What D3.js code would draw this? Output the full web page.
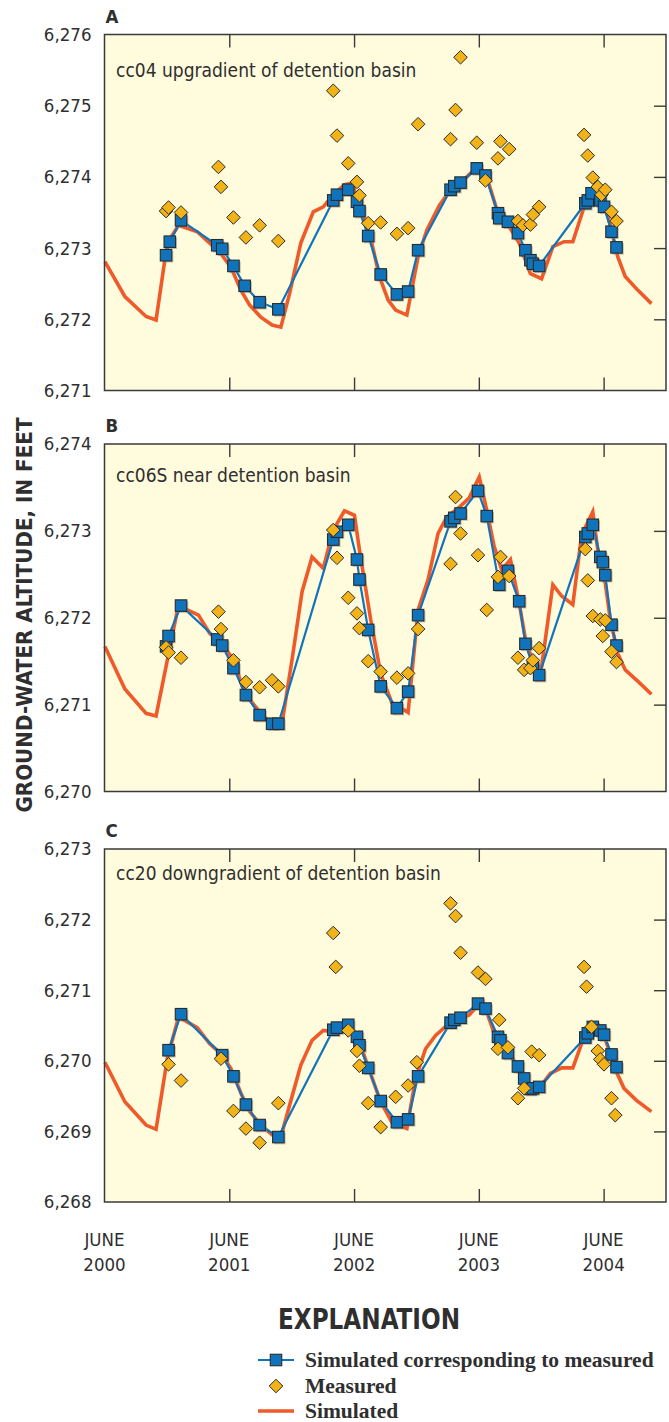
<!DOCTYPE html>
<html>
<head>
<meta charset="utf-8">
<script src="https://cdn.jsdelivr.net/npm/d3@7"></script>
<style>
  body { margin: 0; background: #ffffff; }
  svg { display: block; }
  .cond { font-family: "DejaVu Sans Condensed", "DejaVu Sans", sans-serif; font-stretch: condensed; }
  .serif { font-family: "Liberation Serif", "Times New Roman", serif; font-weight: bold; }
</style>
</head>
<body>
<svg id="chart" width="669" height="1422"></svg>
<script>
// ---- Axis ticks -------------------------------------------------------
const juneTicks = [2000.4167, 2001.4167, 2002.4167, 2003.4167, 2004.4167];
const juneYearLabels = ["2000", "2001", "2002", "2003", "2004"];
const tickValuesA = [6271, 6272, 6273, 6274, 6275, 6276];
const tickValuesB = [6270, 6271, 6272, 6273, 6274];
const tickValuesC = [6268, 6269, 6270, 6271, 6272, 6273];

// ---- Well cc04 (panel A) ---------------------------------------------
const simulatedA = [
  [2000.42, 6272.81], [2000.58, 6272.32], [2000.75, 6272.04], [2000.83, 6271.99],
  [2000.92, 6273.07], [2001.01, 6273.32], [2001.16, 6273.23], [2001.26, 6273.07],
  [2001.35, 6272.92], [2001.43, 6272.73], [2001.51, 6272.41], [2001.58, 6272.20],
  [2001.67, 6272.03], [2001.76, 6271.92], [2001.83, 6271.89], [2001.90, 6272.36],
  [2001.99, 6273.07], [2002.09, 6273.51], [2002.17, 6273.58], [2002.25, 6273.75],
  [2002.34, 6273.89], [2002.40, 6273.91], [2002.44, 6273.72], [2002.49, 6273.44],
  [2002.55, 6273.14], [2002.62, 6272.60], [2002.69, 6272.27], [2002.75, 6272.13],
  [2002.84, 6272.06], [2002.93, 6272.88], [2003.00, 6273.25], [2003.10, 6273.60],
  [2003.19, 6273.82], [2003.28, 6273.93], [2003.36, 6274.07], [2003.41, 6274.17],
  [2003.48, 6274.00], [2003.57, 6273.49], [2003.66, 6273.30], [2003.74, 6273.07],
  [2003.83, 6272.64], [2003.92, 6272.57], [2004.01, 6273.02], [2004.10, 6273.09],
  [2004.17, 6273.09], [2004.27, 6273.63], [2004.31, 6273.77], [2004.40, 6273.72],
  [2004.46, 6273.39], [2004.53, 6272.88], [2004.59, 6272.60], [2004.69, 6272.41],
  [2004.80, 6272.22]
];
const simAtMeasuredA = [
  [2000.91, 6272.90], [2000.94, 6273.09], [2001.03, 6273.39], [2001.32, 6273.04],
  [2001.36, 6272.99], [2001.45, 6272.75], [2001.54, 6272.47], [2001.66, 6272.24],
  [2001.81, 6272.14], [2002.25, 6273.67], [2002.28, 6273.75], [2002.37, 6273.82],
  [2002.44, 6273.65], [2002.46, 6273.52], [2002.53, 6273.17], [2002.63, 6272.63],
  [2002.76, 6272.35], [2002.85, 6272.39], [2002.93, 6272.97], [2003.19, 6273.82],
  [2003.22, 6273.87], [2003.27, 6273.92], [2003.40, 6274.12], [2003.47, 6274.02],
  [2003.57, 6273.49], [2003.58, 6273.42], [2003.65, 6273.37], [2003.73, 6273.21],
  [2003.79, 6272.97], [2003.83, 6272.83], [2003.85, 6272.78], [2003.90, 6272.75],
  [2004.27, 6273.63], [2004.29, 6273.67], [2004.32, 6273.77], [2004.39, 6273.67],
  [2004.42, 6273.58], [2004.48, 6273.23], [2004.52, 6273.01]
];
const measuredA = [
  [2000.91, 6273.52], [2000.93, 6273.57], [2001.03, 6273.50], [2001.33, 6274.14],
  [2001.35, 6273.86], [2001.45, 6273.43], [2001.55, 6273.15], [2001.66, 6273.32],
  [2001.81, 6273.10], [2002.25, 6275.21], [2002.28, 6274.58], [2002.37, 6274.19],
  [2002.44, 6273.93], [2002.46, 6273.74], [2002.53, 6273.35], [2002.63, 6273.36],
  [2002.76, 6273.20], [2002.85, 6273.28], [2002.93, 6274.74], [2003.19, 6274.53],
  [2003.23, 6274.94], [2003.27, 6275.68], [2003.40, 6274.48], [2003.47, 6273.95],
  [2003.57, 6274.26], [2003.59, 6274.50], [2003.66, 6274.39], [2003.73, 6273.38],
  [2003.77, 6273.32], [2003.83, 6273.33], [2003.85, 6273.47], [2003.90, 6273.58],
  [2004.26, 6274.59], [2004.29, 6274.30], [2004.33, 6273.99], [2004.37, 6273.86],
  [2004.40, 6273.75], [2004.43, 6273.82], [2004.48, 6273.51], [2004.52, 6273.38]
];

// ---- Well cc06S (panel B) --------------------------------------------
const simulatedB = [
  [2000.42, 6271.67], [2000.58, 6271.18], [2000.75, 6270.90], [2000.83, 6270.87],
  [2001.01, 6272.15], [2001.08, 6272.09], [2001.17, 6272.03], [2001.26, 6271.82],
  [2001.35, 6271.71], [2001.45, 6271.52], [2001.52, 6271.21], [2001.58, 6271.06],
  [2001.67, 6270.90], [2001.76, 6270.77], [2001.84, 6270.79], [2001.92, 6271.52],
  [2002.00, 6272.30], [2002.08, 6272.70], [2002.17, 6272.57], [2002.25, 6273.01],
  [2002.34, 6273.23], [2002.42, 6273.18], [2002.46, 6272.78], [2002.55, 6271.98],
  [2002.63, 6271.36], [2002.72, 6271.02], [2002.84, 6270.92], [2002.85, 6270.91],
  [2002.93, 6272.09], [2003.01, 6272.44], [2003.09, 6272.97], [2003.16, 6273.16],
  [2003.25, 6273.26], [2003.34, 6273.38], [2003.42, 6273.62], [2003.48, 6273.24],
  [2003.54, 6272.82], [2003.60, 6272.55], [2003.67, 6272.67], [2003.74, 6272.17],
  [2003.80, 6271.67], [2003.88, 6271.44], [2003.92, 6271.44], [2004.01, 6272.38],
  [2004.08, 6272.25], [2004.17, 6272.15], [2004.24, 6272.95], [2004.33, 6273.22],
  [2004.37, 6272.78], [2004.43, 6272.40], [2004.47, 6271.98], [2004.53, 6271.59],
  [2004.59, 6271.40], [2004.69, 6271.27], [2004.80, 6271.12]
];
const simAtMeasuredB = [
  [2000.91, 6271.67], [2000.93, 6271.79], [2001.03, 6272.14], [2001.32, 6271.75],
  [2001.36, 6271.68], [2001.45, 6271.42], [2001.55, 6271.11], [2001.66, 6270.88],
  [2001.76, 6270.78], [2001.81, 6270.78], [2002.25, 6272.90], [2002.28, 6272.99],
  [2002.37, 6273.07], [2002.44, 6272.67], [2002.46, 6272.44], [2002.53, 6271.86],
  [2002.63, 6271.21], [2002.76, 6270.96], [2002.85, 6271.15], [2002.93, 6272.03],
  [2003.19, 6273.11], [2003.22, 6273.15], [2003.27, 6273.20], [2003.41, 6273.46],
  [2003.48, 6273.17], [2003.58, 6272.38], [2003.65, 6272.54], [2003.74, 6272.19],
  [2003.79, 6271.70], [2003.85, 6271.44], [2003.90, 6271.34], [2004.27, 6272.93],
  [2004.29, 6272.97], [2004.33, 6273.07], [2004.39, 6272.70], [2004.41, 6272.64],
  [2004.43, 6272.49], [2004.48, 6271.92], [2004.52, 6271.68]
];
const measuredB = [
  [2000.91, 6271.66], [2000.93, 6271.60], [2001.03, 6271.54], [2001.33, 6272.07],
  [2001.35, 6271.87], [2001.45, 6271.51], [2001.55, 6271.26], [2001.66, 6271.20],
  [2001.76, 6271.28], [2001.81, 6271.21], [2002.25, 6273.01], [2002.28, 6272.69],
  [2002.37, 6272.23], [2002.44, 6272.05], [2002.46, 6271.88], [2002.53, 6271.50],
  [2002.63, 6271.38], [2002.76, 6271.31], [2002.85, 6271.36], [2002.93, 6271.87],
  [2003.19, 6272.62], [2003.23, 6273.39], [2003.27, 6272.97], [2003.41, 6272.72],
  [2003.48, 6272.09], [2003.57, 6272.47], [2003.59, 6272.70], [2003.66, 6272.48],
  [2003.73, 6271.54], [2003.78, 6271.40], [2003.83, 6271.42], [2003.85, 6271.51],
  [2003.90, 6271.65], [2004.27, 6272.79], [2004.29, 6272.43], [2004.33, 6272.02],
  [2004.39, 6271.98], [2004.43, 6271.97], [2004.41, 6271.79], [2004.48, 6271.61],
  [2004.52, 6271.49]
];

// ---- Well cc20 (panel C) ---------------------------------------------
const simulatedC = [
  [2000.42, 6269.98], [2000.58, 6269.42], [2000.75, 6269.09], [2000.83, 6269.03],
  [2000.92, 6270.03], [2001.01, 6270.62], [2001.16, 6270.47], [2001.26, 6270.24],
  [2001.35, 6270.10], [2001.43, 6269.89], [2001.51, 6269.54], [2001.58, 6269.28],
  [2001.67, 6269.09], [2001.76, 6268.95], [2001.83, 6268.92], [2001.90, 6269.37],
  [2001.99, 6269.94], [2002.08, 6270.29], [2002.17, 6270.43], [2002.25, 6270.41],
  [2002.34, 6270.49], [2002.40, 6270.46], [2002.46, 6270.27], [2002.53, 6269.91],
  [2002.63, 6269.42], [2002.72, 6269.13], [2002.84, 6269.04], [2002.91, 6269.75],
  [2002.99, 6270.17], [2003.07, 6270.36], [2003.16, 6270.50], [2003.25, 6270.58],
  [2003.34, 6270.65], [2003.41, 6270.79], [2003.48, 6270.69], [2003.55, 6270.34],
  [2003.63, 6270.15], [2003.71, 6269.98], [2003.77, 6269.75], [2003.85, 6269.56],
  [2003.90, 6269.61], [2003.99, 6269.82], [2004.08, 6269.90], [2004.17, 6269.90],
  [2004.26, 6270.34], [2004.31, 6270.48], [2004.40, 6270.46], [2004.46, 6270.15],
  [2004.52, 6269.84], [2004.58, 6269.61], [2004.68, 6269.44], [2004.80, 6269.28]
];
const simAtMeasuredC = [
  [2000.93, 6270.15], [2001.03, 6270.66], [2001.36, 6270.08], [2001.45, 6269.78],
  [2001.55, 6269.38], [2001.66, 6269.09], [2001.81, 6268.92], [2002.25, 6270.44],
  [2002.28, 6270.47], [2002.37, 6270.51], [2002.44, 6270.34], [2002.46, 6270.22],
  [2002.53, 6269.90], [2002.63, 6269.43], [2002.76, 6269.13], [2002.85, 6269.17],
  [2002.93, 6269.78], [2003.19, 6270.54], [2003.22, 6270.58], [2003.27, 6270.61],
  [2003.41, 6270.81], [2003.47, 6270.74], [2003.57, 6270.34], [2003.59, 6270.29],
  [2003.65, 6270.11], [2003.73, 6269.92], [2003.78, 6269.75], [2003.83, 6269.60],
  [2003.85, 6269.61], [2003.90, 6269.63], [2004.27, 6270.33], [2004.29, 6270.39],
  [2004.33, 6270.48], [2004.39, 6270.43], [2004.42, 6270.37], [2004.48, 6270.09],
  [2004.52, 6269.91]
];
const measuredC = [
  [2000.93, 6269.95], [2001.03, 6269.72], [2001.35, 6270.03], [2001.45, 6269.29],
  [2001.55, 6269.04], [2001.66, 6268.84], [2001.81, 6269.40], [2002.25, 6271.81],
  [2002.27, 6271.33], [2002.37, 6270.43], [2002.44, 6270.14], [2002.46, 6269.93],
  [2002.53, 6269.40], [2002.63, 6269.06], [2002.75, 6269.49], [2002.85, 6269.65],
  [2002.92, 6269.98], [2003.19, 6272.23], [2003.23, 6272.05], [2003.27, 6271.53],
  [2003.41, 6271.25], [2003.47, 6271.16], [2003.58, 6270.58], [2003.57, 6270.17],
  [2003.65, 6270.19], [2003.73, 6269.47], [2003.78, 6269.61], [2003.84, 6270.13],
  [2003.90, 6270.08], [2004.26, 6271.33], [2004.28, 6271.05], [2004.32, 6270.48],
  [2004.37, 6270.14], [2004.39, 6270.02], [2004.42, 6269.95], [2004.48, 6269.47],
  [2004.51, 6269.23]
];

// ---- Panel definitions ----------------------------------------------
const panelLetters = ["A", "B", "C"];
const panelNotes = [
  "cc04 upgradient of detention basin",
  "cc06S near detention basin",
  "cc20 downgradient of detention basin"
];
const panelDomains = [[6271, 6276], [6270, 6274], [6268, 6273]];
const panelTicks = [tickValuesA, tickValuesB, tickValuesC];
const panelSimulated = [simulatedA, simulatedB, simulatedC];
const panelSimAtMeasured = [simAtMeasuredA, simAtMeasuredB, simAtMeasuredC];
const panelMeasured = [measuredA, measuredB, measuredC];

const legendLabels = ["Simulated corresponding to measured", "Measured", "Simulated"];

// ---- Layout & styling ------------------------------------------------
const COLORS = {
  bg: "#fffbdd",
  frame: "#3a3a3a",
  orange: "#ef5a2a",
  blue: "#0f74bb",
  squareFill: "#0f74bb",
  diamond: "#f1b318",
  markerStroke: "#2b2b2b",
  text: "#2f2f2f"
};
const plotLeft = 104.5, plotRight = 666;
const panelBoxes = [
  { top: 34.5, bottom: 390.5 },
  { top: 444, bottom: 791.5 },
  { top: 849, bottom: 1202 }
];

const svg = d3.select("#chart");
const x = d3.scaleLinear().domain([2000.4167, 2004.9167]).range([plotLeft, plotRight]);

const sq = 11.5;     // square marker size
const dm = 6.8;      // diamond half-diagonal

panelBoxes.forEach((box, i) => {
  const y = d3.scaleLinear().domain(panelDomains[i]).range([box.bottom, box.top]);
  const g = svg.append("g");

  g.append("rect")
    .attr("x", plotLeft).attr("y", box.top)
    .attr("width", plotRight - plotLeft).attr("height", box.bottom - box.top)
    .attr("fill", COLORS.bg);

  // inner ticks on top, bottom and right edges
  const xTop = d3.axisTop(x).tickValues(juneTicks.slice(1)).tickSize(-13).tickFormat("");
  const xBot = d3.axisBottom(x).tickValues(juneTicks.slice(1)).tickSize(-13).tickFormat("");
  const yRight = d3.axisRight(y).tickValues(panelTicks[i].slice(1, -1)).tickSize(-12).tickFormat("");
  const yLeft = d3.axisLeft(y).tickValues(panelTicks[i]).tickSize(0).tickPadding(13)
    .tickFormat(d3.format(","));

  [ [xTop, `translate(0,${box.top})`], [xBot, `translate(0,${box.bottom})`],
    [yRight, `translate(${plotRight},0)`] ].forEach(([ax, tr]) => {
    const a = g.append("g").attr("transform", tr).call(ax);
    a.select(".domain").remove();
    a.selectAll("line").attr("stroke", COLORS.frame).attr("stroke-width", 1.4);
  });

  const yl = g.append("g").attr("transform", `translate(${plotLeft},0)`).call(yLeft);
  yl.select(".domain").remove();
  yl.selectAll("text")
    .attr("class", "cond")
    .attr("font-size", 18.5)
    .attr("fill", COLORS.text);

  // simulated (continuous)
  const line = d3.line().x(d => x(d[0])).y(d => y(d[1]));
  g.append("path").datum(panelSimulated[i])
    .attr("d", line).attr("fill", "none")
    .attr("stroke", COLORS.orange).attr("stroke-width", 3.6)
    .attr("stroke-linejoin", "miter");

  // simulated corresponding to measured
  g.append("path").datum(panelSimAtMeasured[i])
    .attr("d", line).attr("fill", "none")
    .attr("stroke", COLORS.blue).attr("stroke-width", 2.2)
    .attr("stroke-linejoin", "round");

  const sqG = g.append("g");
  sqG.selectAll("rect.shadow").data(panelSimAtMeasured[i]).join("rect")
    .attr("class", "shadow")
    .attr("x", d => x(d[0]) - sq / 2 + 1.5).attr("y", d => y(d[1]) - sq / 2 + 1.5)
    .attr("width", sq).attr("height", sq)
    .attr("fill", "#8a8a80").attr("opacity", 0.55);
  sqG.selectAll("rect.mark").data(panelSimAtMeasured[i]).join("rect")
    .attr("class", "mark")
    .attr("x", d => x(d[0]) - sq / 2).attr("y", d => y(d[1]) - sq / 2)
    .attr("width", sq).attr("height", sq)
    .attr("fill", COLORS.squareFill)
    .attr("stroke", COLORS.markerStroke).attr("stroke-width", 1.1);

  g.append("g").selectAll("path").data(panelMeasured[i]).join("path")
    .attr("d", d => {
      const cx = x(d[0]), cy = y(d[1]);
      return `M${cx},${cy - dm}L${cx + dm},${cy}L${cx},${cy + dm}L${cx - dm},${cy}Z`;
    })
    .attr("fill", COLORS.diamond)
    .attr("stroke", COLORS.markerStroke).attr("stroke-width", 1);

  // frame
  g.append("rect")
    .attr("x", plotLeft).attr("y", box.top)
    .attr("width", plotRight - plotLeft).attr("height", box.bottom - box.top)
    .attr("fill", "none").attr("stroke", COLORS.frame).attr("stroke-width", 1.5);

  // panel letter & well note
  g.append("text").attr("class", "cond")
    .attr("x", plotLeft + 1).attr("y", box.top - 12)
    .attr("font-size", 18.5).attr("font-weight", "bold").attr("fill", COLORS.text)
    .text(panelLetters[i]);
  g.append("text").attr("class", "cond")
    .attr("x", plotLeft + 11.5).attr("y", box.top + [42, 38, 31][i])
    .attr("font-size", 19).attr("fill", COLORS.text)
    .text(panelNotes[i]);

  if (i === 2) {
    const xl = g.append("g").attr("class", "cond");
    juneTicks.forEach((t, k) => {
      const tx = xl.append("text").attr("x", x(t)).attr("text-anchor", "middle")
        .attr("font-size", 18.5).attr("fill", COLORS.text);
      tx.append("tspan").attr("x", x(t)).attr("y", 1246).text("JUNE");
      tx.append("tspan").attr("x", x(t)).attr("y", 1271).text(juneYearLabels[k]);
    });
  }
});

// y-axis title
svg.append("text").attr("class", "cond")
  .attr("transform", "translate(32,615) rotate(-90)")
  .attr("text-anchor", "middle")
  .attr("font-size", 21).attr("font-weight", "bold").attr("fill", COLORS.text)
  .attr("textLength", 395).attr("lengthAdjust", "spacingAndGlyphs")
  .text("GROUND-WATER ALTITUDE, IN FEET");

// ---- Explanation ------------------------------------------------------
svg.append("text").attr("class", "cond")
  .attr("x", 369).attr("y", 1329).attr("text-anchor", "middle")
  .attr("font-size", 29).attr("font-weight", "bold").attr("fill", COLORS.text)
  .attr("textLength", 182).attr("lengthAdjust", "spacingAndGlyphs")
  .text("EXPLANATION");

const legX0 = 258, legX1 = 294, legCx = 276, legText = 305;
const legRows = [1360, 1386, 1411];
const lg = svg.append("g");
lg.append("line").attr("x1", legX0).attr("x2", legX1).attr("y1", legRows[0]).attr("y2", legRows[0])
  .attr("stroke", COLORS.blue).attr("stroke-width", 2.2);
lg.append("rect").attr("x", legCx - sq / 2).attr("y", legRows[0] - sq / 2)
  .attr("width", sq).attr("height", sq).attr("fill", COLORS.squareFill)
  .attr("stroke", COLORS.markerStroke).attr("stroke-width", 1.1);
lg.append("path")
  .attr("d", `M${legCx},${legRows[1] - dm}L${legCx + dm},${legRows[1]}L${legCx},${legRows[1] + dm}L${legCx - dm},${legRows[1]}Z`)
  .attr("fill", COLORS.diamond).attr("stroke", COLORS.markerStroke).attr("stroke-width", 1);
lg.append("line").attr("x1", legX0).attr("x2", legX1).attr("y1", legRows[2]).attr("y2", legRows[2])
  .attr("stroke", COLORS.orange).attr("stroke-width", 3.6);
legendLabels.forEach((lab, k) => {
  lg.append("text").attr("class", "serif")
    .attr("x", legText).attr("y", legRows[k] + 6.5)
    .attr("font-size", 21.5).attr("fill", COLORS.text)
    .text(lab);
});
</script>
</body>
</html>
